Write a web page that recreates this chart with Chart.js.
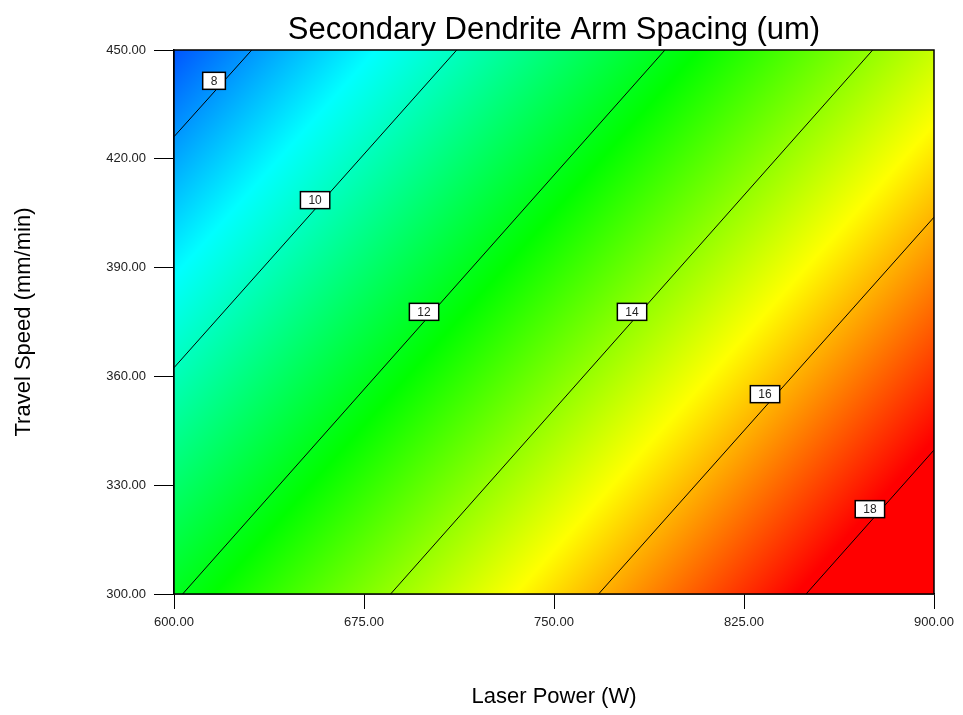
<!DOCTYPE html>
<html>
<head>
<meta charset="utf-8">
<script src="https://cdn.jsdelivr.net/npm/chart.js@4"></script>
<style>
  html, body { margin: 0; padding: 0; background: #fff; }
</style>
</head>
<body>
<canvas id="contour" width="963" height="715"></canvas>
<script>
// contour levels and where each line enters / leaves the plot (Laser Power, Travel Speed)
const levels = [8, 10, 12, 14, 16, 18];
const linePower = [[600, 630.7], [600, 711.6], [603.4, 793.8], [685.5, 875.8], [767.6, 900], [849.5, 900]];
const lineSpeed = [[426.1, 450], [362.4, 450], [300, 450], [300, 450], [300, 403.9], [300, 339.7]];

// where the level labels sit
const labelPower = [615.8, 655.7, 698.7, 780.8, 833.3, 874.7];
const labelSpeed = [441.5, 408.6, 377.8, 377.8, 355.1, 323.4];

const powerTicks = [600, 675, 750, 825, 900];
const speedTicks = [300, 330, 360, 390, 420, 450];

// colour map: response value -> colour
const colorValues = [7.2, 9.2, 12.3, 15.2, 17.9, 19.3];
const colorList = ['#0050ff', '#00ffff', '#00ff00', '#ffff00', '#ff0000', '#ff0000'];

const chartTitle = 'Secondary Dendrite Arm Spacing (um)';
const FONT = 'Arial, "Liberation Sans", sans-serif';

// paint the response surface as a gradient running across the contour lines
const surfacePlugin = {
    id: 'surface',
    beforeDatasetsDraw(chart) {
        const { ctx, chartArea: area, scales: { x, y } } = chart;
        const pt = (i, k) => ({ x: x.getPixelForValue(linePower[i][k]), y: y.getPixelForValue(lineSpeed[i][k]) });
        const lo = 0, hi = levels.length - 1;
        const a0 = pt(lo, 0), a1 = pt(lo, 1), b0 = pt(hi, 0), b1 = pt(hi, 1);
        const dx = (a1.x - a0.x) + (b1.x - b0.x);
        const dy = (a1.y - a0.y) + (b1.y - b0.y);
        const len = Math.hypot(dx, dy);
        let nx = -dy / len, ny = dx / len;
        let dist = (b0.x - a0.x) * nx + (b0.y - a0.y) * ny;
        if (dist < 0) { nx = -nx; ny = -ny; dist = -dist; }
        const perUnit = dist / (levels[hi] - levels[lo]);
        const v0 = colorValues[0], v1 = colorValues[colorValues.length - 1];
        const sx = a0.x + nx * (v0 - levels[lo]) * perUnit, sy = a0.y + ny * (v0 - levels[lo]) * perUnit;
        const ex = a0.x + nx * (v1 - levels[lo]) * perUnit, ey = a0.y + ny * (v1 - levels[lo]) * perUnit;
        const grad = ctx.createLinearGradient(sx, sy, ex, ey);
        colorValues.forEach((v, i) => grad.addColorStop((v - v0) / (v1 - v0), colorList[i]));
        ctx.save();
        ctx.fillStyle = grad;
        ctx.fillRect(area.left, area.top, area.width, area.height);
        ctx.restore();
    },
    afterDatasetsDraw(chart) {
        const { ctx, chartArea: area, scales: { x, y } } = chart;
        ctx.save();
        // level labels
        ctx.font = '12px ' + FONT;
        ctx.textAlign = 'center';
        ctx.textBaseline = 'middle';
        levels.forEach((lv, i) => {
            const cx = x.getPixelForValue(labelPower[i]);
            const cy = y.getPixelForValue(labelSpeed[i]);
            const w = ctx.measureText(String(lv)).width + 16;
            const h = 17;
            ctx.fillStyle = '#fff';
            ctx.fillRect(cx - w / 2, cy - h / 2, w, h);
            ctx.strokeStyle = '#000';
            ctx.lineWidth = 1.5;
            ctx.strokeRect(cx - w / 2, cy - h / 2, w, h);
            ctx.fillStyle = '#222';
            ctx.fillText(String(lv), cx, cy + 0.5);
        });
        // frame round the plot
        ctx.strokeStyle = '#000';
        ctx.lineWidth = 1.5;
        ctx.strokeRect(area.left, area.top, area.width, area.height);
        // title, centred over the plot area
        ctx.font = '31px ' + FONT;
        ctx.fillStyle = '#000';
        ctx.textBaseline = 'alphabetic';
        ctx.fillText(chartTitle, (area.left + area.right) / 2, 39);
        ctx.restore();
    }
};

new Chart(document.getElementById('contour'), {
    type: 'scatter',
    data: {
        datasets: levels.map((lv, i) => ({
            label: String(lv),
            data: [
                { x: linePower[i][0], y: lineSpeed[i][0] },
                { x: linePower[i][1], y: lineSpeed[i][1] }
            ],
            showLine: true,
            borderColor: '#000',
            borderWidth: 1,
            pointRadius: 0,
            fill: false
        }))
    },
    options: {
        responsive: false,
        animation: false,
        layout: { padding: { top: 50, right: 29 } },
        plugins: {
            legend: { display: false },
            tooltip: { enabled: false },
            title: { display: false }
        },
        scales: {
            x: {
                type: 'linear',
                min: 600,
                max: 900,
                afterBuildTicks: s => { s.ticks = powerTicks.map(v => ({ value: v })); },
                afterFit: s => { s.height = 121; },
                ticks: {
                    callback: v => Number(v).toFixed(2),
                    color: '#222',
                    font: { family: FONT, size: 13 },
                    padding: 6,
                    maxRotation: 0,
                    autoSkip: false
                },
                grid: { drawOnChartArea: false, drawTicks: true, tickLength: 15, color: '#000', lineWidth: 1 },
                border: { color: '#000', width: 1.5 },
                title: {
                    display: true,
                    text: 'Laser Power (W)',
                    color: '#000',
                    font: { family: FONT, size: 22 },
                    padding: { top: 0, bottom: 5 }
                }
            },
            y: {
                type: 'linear',
                min: 300,
                max: 450,
                afterBuildTicks: s => { s.ticks = speedTicks.map(v => ({ value: v })); },
                afterFit: s => { s.width = 174; },
                ticks: {
                    callback: v => Number(v).toFixed(2),
                    color: '#222',
                    font: { family: FONT, size: 13 },
                    padding: 8,
                    autoSkip: false
                },
                grid: { drawOnChartArea: false, drawTicks: true, tickLength: 20, color: '#000', lineWidth: 1 },
                border: { color: '#000', width: 1.5 },
                title: {
                    display: true,
                    text: 'Travel Speed (mm/min)',
                    color: '#000',
                    font: { family: FONT, size: 22 },
                    padding: { top: 11, bottom: 0 }
                }
            }
        }
    },
    plugins: [surfacePlugin]
});
</script>
</body>
</html>
